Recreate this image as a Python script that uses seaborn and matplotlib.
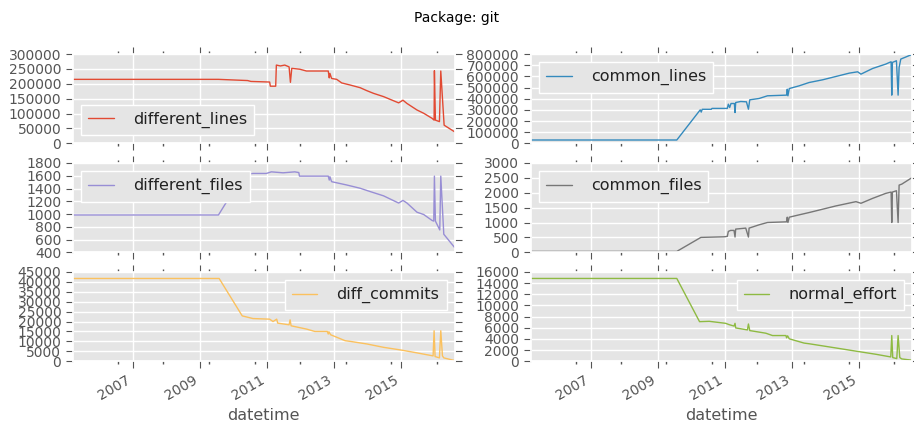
import matplotlib
matplotlib.use("Agg")
import pandas as pd
import matplotlib.pyplot as plt
import matplotlib.dates as mdates
from matplotlib.ticker import MultipleLocator, FixedLocator, StrMethodFormatter
import seaborn as sns

# values, dates as decimal years
dl_years = [2005.21, 2009.55, 2010.42, 2010.52, 2011.08, 2011.10, 2011.26, 2011.28, 2011.40, 2011.53,
            2011.66, 2011.70, 2011.74, 2011.98, 2012.18, 2012.83, 2012.86, 2012.88, 2012.93, 2013.08,
            2013.23, 2013.48, 2013.78, 2013.98, 2014.18, 2014.48, 2014.93, 2015.06, 2015.18, 2015.48,
            2015.68, 2015.93, 2015.99, 2016.00, 2016.03, 2016.15, 2016.19, 2016.29, 2016.60]
different_lines = [215000, 215000, 211000, 208000, 206000, 192000, 192000, 263000, 260000, 263000,
                   257000, 205000, 252000, 249000, 243000, 243000, 220000, 235000, 218000, 215000,
                   203000, 196000, 187000, 177000, 168000, 157000, 136000, 145000, 134000, 112000,
                   101000, 84000, 78000, 244000, 78000, 73000, 243000, 61000, 39000]

cl_years = [2005.21, 2009.57, 2010.27, 2010.30, 2010.33, 2010.60, 2010.62, 2011.08, 2011.11, 2011.15,
            2011.19, 2011.29, 2011.31, 2011.33, 2011.48, 2011.65, 2011.71, 2011.75, 2012.03, 2012.28,
            2012.85, 2012.87, 2012.89, 2012.93, 2013.22, 2013.52, 2013.92, 2014.32, 2014.72, 2014.97,
            2015.07, 2015.42, 2015.81, 2015.97, 2015.99, 2016.01, 2016.13, 2016.18, 2016.21, 2016.26,
            2016.60]
common_lines = [30000, 30000, 300000, 280000, 305000, 305000, 313000, 313000, 351000, 321000,
                357000, 357000, 276000, 366000, 375000, 372000, 306000, 390000, 402000, 426000,
                432000, 485000, 426000, 491000, 515000, 545000, 569000, 599000, 629000, 641000,
                620000, 671000, 710000, 731000, 432000, 725000, 740000, 432000, 680000, 755000,
                797000]

df_years = [2005.21, 2009.55, 2010.30, 2010.58, 2010.98, 2011.13, 2011.48, 2011.83, 2011.95, 2011.97,
            2012.83, 2012.86, 2012.88, 2012.93, 2013.38, 2013.78, 2014.08, 2014.48, 2014.93, 2015.06,
            2015.18, 2015.48, 2015.68, 2015.93, 2015.98, 2016.00, 2016.03, 2016.16, 2016.19, 2016.28,
            2016.60]
different_files = [985, 985, 1620, 1636, 1636, 1661, 1646, 1661, 1650, 1594,
                   1594, 1532, 1585, 1507, 1455, 1404, 1352, 1285, 1172, 1213,
                   1172, 1028, 992, 899, 889, 1594, 889, 750, 1594, 683,
                   477]

cf_years = [2005.21, 2009.57, 2010.29, 2010.98, 2011.08, 2011.11, 2011.18, 2011.28, 2011.31, 2011.33,
            2011.63, 2011.71, 2011.73, 2012.03, 2012.28, 2012.85, 2012.87, 2012.89, 2012.93, 2013.22,
            2013.52, 2013.92, 2014.32, 2014.92, 2015.07, 2015.42, 2015.81, 2015.97, 2015.99, 2016.01,
            2016.13, 2016.18, 2016.21, 2016.29, 2016.60]
common_files = [30, 30, 500, 520, 535, 701, 735, 735, 512, 779,
                812, 512, 812, 923, 1001, 1023, 1179, 1001, 1179, 1257,
                1335, 1446, 1557, 1701, 1646, 1812, 1979, 2023, 1001, 2023,
                2068, 1001, 2257, 2290, 2512]

dc_years = [2005.21, 2009.57, 2010.26, 2010.58, 2011.08, 2011.18, 2011.29, 2011.32, 2011.66, 2011.69,
            2011.72, 2012.18, 2012.43, 2012.80, 2012.83, 2012.85, 2012.90, 2013.33, 2013.48, 2013.98,
            2014.48, 2014.98, 2015.48, 2015.96, 2015.99, 2016.02, 2016.15, 2016.19, 2016.24, 2016.28,
            2016.60]
diff_commits = [41700, 41700, 22850, 21500, 21200, 20000, 21200, 19200, 18350, 20850,
                17850, 16200, 15000, 15000, 13700, 14850, 13350, 10350, 10000, 8700,
                7000, 5700, 4200, 2680, 15350, 2350, 1680, 15350, 2680, 1680,
                350]

ne_years = [2005.21, 2009.57, 2010.25, 2010.54, 2011.03, 2011.13, 2011.28, 2011.31, 2011.33, 2011.68,
            2011.71, 2011.75, 2012.23, 2012.43, 2012.83, 2012.85, 2012.88, 2012.93, 2013.37, 2013.52,
            2014.02, 2014.52, 2015.02, 2015.52, 2015.96, 2015.99, 2016.02, 2016.14, 2016.18, 2016.23,
            2016.29, 2016.60]
normal_effort = [14830, 14830, 7090, 7150, 6790, 6560, 6300, 6790, 5965, 5610,
                 6670, 5490, 5020, 4600, 4600, 4190, 4550, 4015, 3250, 3130,
                 2660, 2185, 1710, 1240, 765, 4600, 650, 470, 4600, 650,
                 410, 180]

major_years = [2007, 2009, 2011, 2013, 2015]
minor_dates = ['2006-07-23', '2007-11-27', '2009-04-04', '2010-08-19',
               '2011-12-24', '2013-05-14', '2014-09-19', '2016-01-25']


def to_dates(years):
    return [pd.Timestamp(int(y), 1, 1) + pd.Timedelta(days=(y - int(y)) * 365.25) for y in years]


sns.set_theme(style="darkgrid", rc={
    "axes.facecolor": "#E5E5E5",
    "axes.edgecolor": "white",
    "grid.color": "white",
    "grid.linewidth": 1.0,
    "xtick.color": "#555555",
    "ytick.color": "#555555",
    "axes.labelcolor": "#555555",
    "xtick.direction": "out",
    "ytick.direction": "out",
    "xtick.bottom": True, "xtick.top": True,
    "ytick.left": True, "ytick.right": True,
    "xtick.major.size": 5, "ytick.major.size": 5,
    "xtick.minor.size": 2.5, "ytick.minor.size": 2.5,
    "xtick.major.width": 0.8, "ytick.major.width": 0.8,
    "xtick.labelsize": 10, "ytick.labelsize": 10,
    "axes.labelsize": 11.5,
    "legend.fontsize": 11.5,
})
plt.rcParams['font.family'] = ['DejaVu Sans']

panels = [
    ("different_lines", dl_years, different_lines, "#E24A33", (0, 300000), 50000, "lower left"),
    ("common_lines", cl_years, common_lines, "#348ABD", (0, 800000), 100000, "upper left"),
    ("different_files", df_years, different_files, "#988ED5", (400, 1800), 200, "upper left"),
    ("common_files", cf_years, common_files, "#777777", (0, 3000), 500, "upper left"),
    ("diff_commits", dc_years, diff_commits, "#FBC15E", (0, 45000), 5000, "upper right"),
    ("normal_effort", ne_years, normal_effort, "#8EBA42", (0, 16000), 2000, "upper right"),
]

fig, axes = plt.subplots(3, 2, figsize=(9.14, 4.29), dpi=100, sharex=True)
fig.subplots_adjust(left=0.08, right=0.998, bottom=0.158, top=0.874, wspace=0.2, hspace=0.22)

for ax, (name, years, vals, color, ylim, step, loc) in zip(axes.flat, panels):
    sns.lineplot(x=to_dates(years), y=vals, ax=ax, color=color, lw=1.0, label=name, estimator=None)
    ax.set_ylim(*ylim)
    ax.yaxis.set_major_locator(MultipleLocator(step))
    ax.yaxis.set_major_formatter(StrMethodFormatter("{x:.0f}"))
    ax.grid(True, which="major", color="white", lw=1.0)
    ax.set_ylabel("")
    leg = ax.legend(loc=loc, handlelength=1.6, handletextpad=1.2, borderpad=0.45,
                    fancybox=False, facecolor="#E5E5E5", edgecolor="white", framealpha=1)
    for t in leg.get_texts():
        t.set_color("#222222")

all_dates = to_dates(dl_years)
ax0 = axes[0, 0]
ax0.set_xlim(all_dates[0], all_dates[-1])
ax0.xaxis.set_major_locator(FixedLocator(mdates.date2num([pd.Timestamp(y, 1, 1) for y in major_years])))
ax0.xaxis.set_minor_locator(FixedLocator(mdates.date2num(pd.to_datetime(minor_dates))))
ax0.xaxis.set_major_formatter(mdates.DateFormatter("%Y"))

for ax in axes[-1]:
    ax.set_xlabel("datetime")
    plt.setp(ax.get_xticklabels(), rotation=30, ha="right")
for ax in axes[:-1].flat:
    ax.set_xlabel("")

fig.suptitle("Package: git", fontsize=10, y=0.975, color="black")
fig.savefig("out.png", dpi=100)
